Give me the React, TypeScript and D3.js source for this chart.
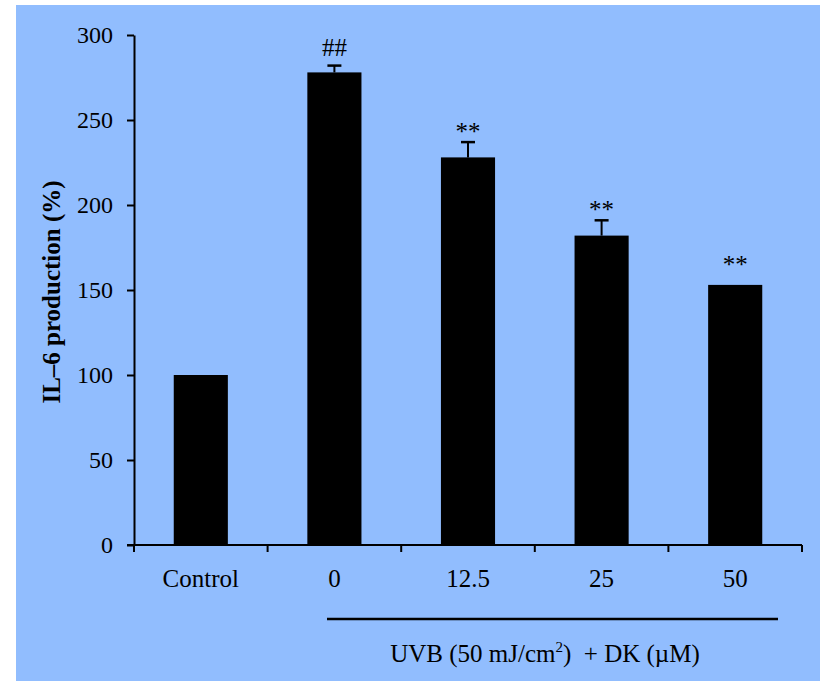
import React, { useRef, useEffect } from "react";
import * as d3 from "d3";

const categories = ["Control", "0", "12.5", "25", "50"];
const values = [100, 278, 228, 182, 153];
const errors = [0, 4, 9, 9, 0];
const marks = ["", "##", "**", "**", "**"];
const yTicks = [0, 50, 100, 150, 200, 250, 300];

const App: React.FC = () => {
  const chartRef = useRef<SVGSVGElement>(null);

  useEffect(() => {
    if (!chartRef.current) return;
    const svg = d3.select(chartRef.current);
    svg.selectAll("*").remove();

    const font = "'Liberation Serif', 'Times New Roman', serif";

    // blue panel
    svg
      .append("rect")
      .attr("x", 16)
      .attr("y", 5)
      .attr("width", 804)
      .attr("height", 676)
      .attr("fill", "#91bdfe");

    const x = d3.scaleBand().domain(categories).range([134, 802]).padding(0);
    const y = d3.scaleLinear().domain([0, 300]).range([545, 35]);
    const barW = x.bandwidth() * 0.405;

    // bars
    svg
      .selectAll(".bar")
      .data(categories)
      .enter()
      .append("rect")
      .attr("x", (d) => (x(d) || 0) + x.bandwidth() / 2 - barW / 2)
      .attr("y", (_, i) => y(values[i]))
      .attr("width", barW)
      .attr("height", (_, i) => y(0) - y(values[i]))
      .attr("fill", "#000");

    // error bars
    categories.forEach((c, i) => {
      if (!errors[i]) return;
      const cx = (x(c) || 0) + x.bandwidth() / 2;
      svg
        .append("line")
        .attr("x1", cx)
        .attr("x2", cx)
        .attr("y1", y(values[i]))
        .attr("y2", y(values[i] + errors[i]))
        .attr("stroke", "#000")
        .attr("stroke-width", 2);
      svg
        .append("line")
        .attr("x1", cx - 7)
        .attr("x2", cx + 7)
        .attr("y1", y(values[i] + errors[i]))
        .attr("y2", y(values[i] + errors[i]))
        .attr("stroke", "#000")
        .attr("stroke-width", 2.5);
    });

    // significance marks
    categories.forEach((c, i) => {
      if (!marks[i]) return;
      const cx = (x(c) || 0) + x.bandwidth() / 2;
      const top = y(values[i] + errors[i]);
      svg
        .append("text")
        .attr("x", cx)
        .attr("y", marks[i] === "##" ? top - 10 : top - (errors[i] ? 2 : 12))
        .attr("text-anchor", "middle")
        .attr("font-family", font)
        .attr("font-size", 25)
        .attr("fill", "#000")
        .text(marks[i]);
    });

    // y axis
    const yAxis = svg
      .append("g")
      .attr("transform", "translate(134,0)")
      .call(
        d3
          .axisLeft(y)
          .tickValues(yTicks)
          .tickSize(7)
          .tickPadding(14)
          .tickSizeOuter(0)
      );
    yAxis.select(".domain").attr("stroke-width", 2);
    yAxis.selectAll(".tick line").attr("stroke-width", 2);
    yAxis
      .selectAll(".tick text")
      .attr("font-family", font)
      .attr("font-size", 24)
      .attr("fill", "#000");

    // x axis
    svg
      .append("line")
      .attr("x1", 127)
      .attr("x2", 802)
      .attr("y1", y(0))
      .attr("y2", y(0))
      .attr("stroke", "#000")
      .attr("stroke-width", 2);
    const bounds = categories.map((c) => x(c) || 0).concat([(x(categories[categories.length - 1]) || 0) + x.bandwidth()]);
    svg
      .selectAll(".xtick")
      .data(bounds)
      .enter()
      .append("line")
      .attr("x1", (d) => d)
      .attr("x2", (d) => d)
      .attr("y1", y(0))
      .attr("y2", y(0) + 7)
      .attr("stroke", "#000")
      .attr("stroke-width", 2);
    svg
      .selectAll(".xlabel")
      .data(categories)
      .enter()
      .append("text")
      .attr("x", (d) => (x(d) || 0) + x.bandwidth() / 2)
      .attr("y", 587)
      .attr("text-anchor", "middle")
      .attr("font-family", font)
      .attr("font-size", 25)
      .attr("fill", "#000")
      .text((d) => d);

    // group line and label
    svg
      .append("line")
      .attr("x1", 327)
      .attr("x2", 778)
      .attr("y1", 619)
      .attr("y2", 619)
      .attr("stroke", "#000")
      .attr("stroke-width", 2.5);
    const g = svg
      .append("text")
      .attr("x", 545)
      .attr("y", 662)
      .attr("text-anchor", "middle")
      .attr("font-family", font)
      .attr("font-size", 25)
      .attr("fill", "#000");
    g.append("tspan").text("UVB (50 mJ/cm");
    g.append("tspan").attr("font-size", 15).attr("dy", -10).text("2");
    g.append("tspan").attr("dy", 10).text(")\u00a0\u00a0+ DK (\u00b5M)");

    // y title
    svg
      .append("text")
      .attr("transform", "translate(60,292) rotate(-90)")
      .attr("text-anchor", "middle")
      .attr("font-family", font)
      .attr("font-size", 25)
      .attr("font-weight", "bold")
      .attr("fill", "#000")
      .text("IL\u20136 production (%)");
  }, []);

  return (
    <div style={{ position: "absolute", left: 0, top: 0, background: "#fff" }}>
      <svg ref={chartRef} width="820" height="681" style={{ display: "block" }}></svg>
    </div>
  );
};

export default App;
